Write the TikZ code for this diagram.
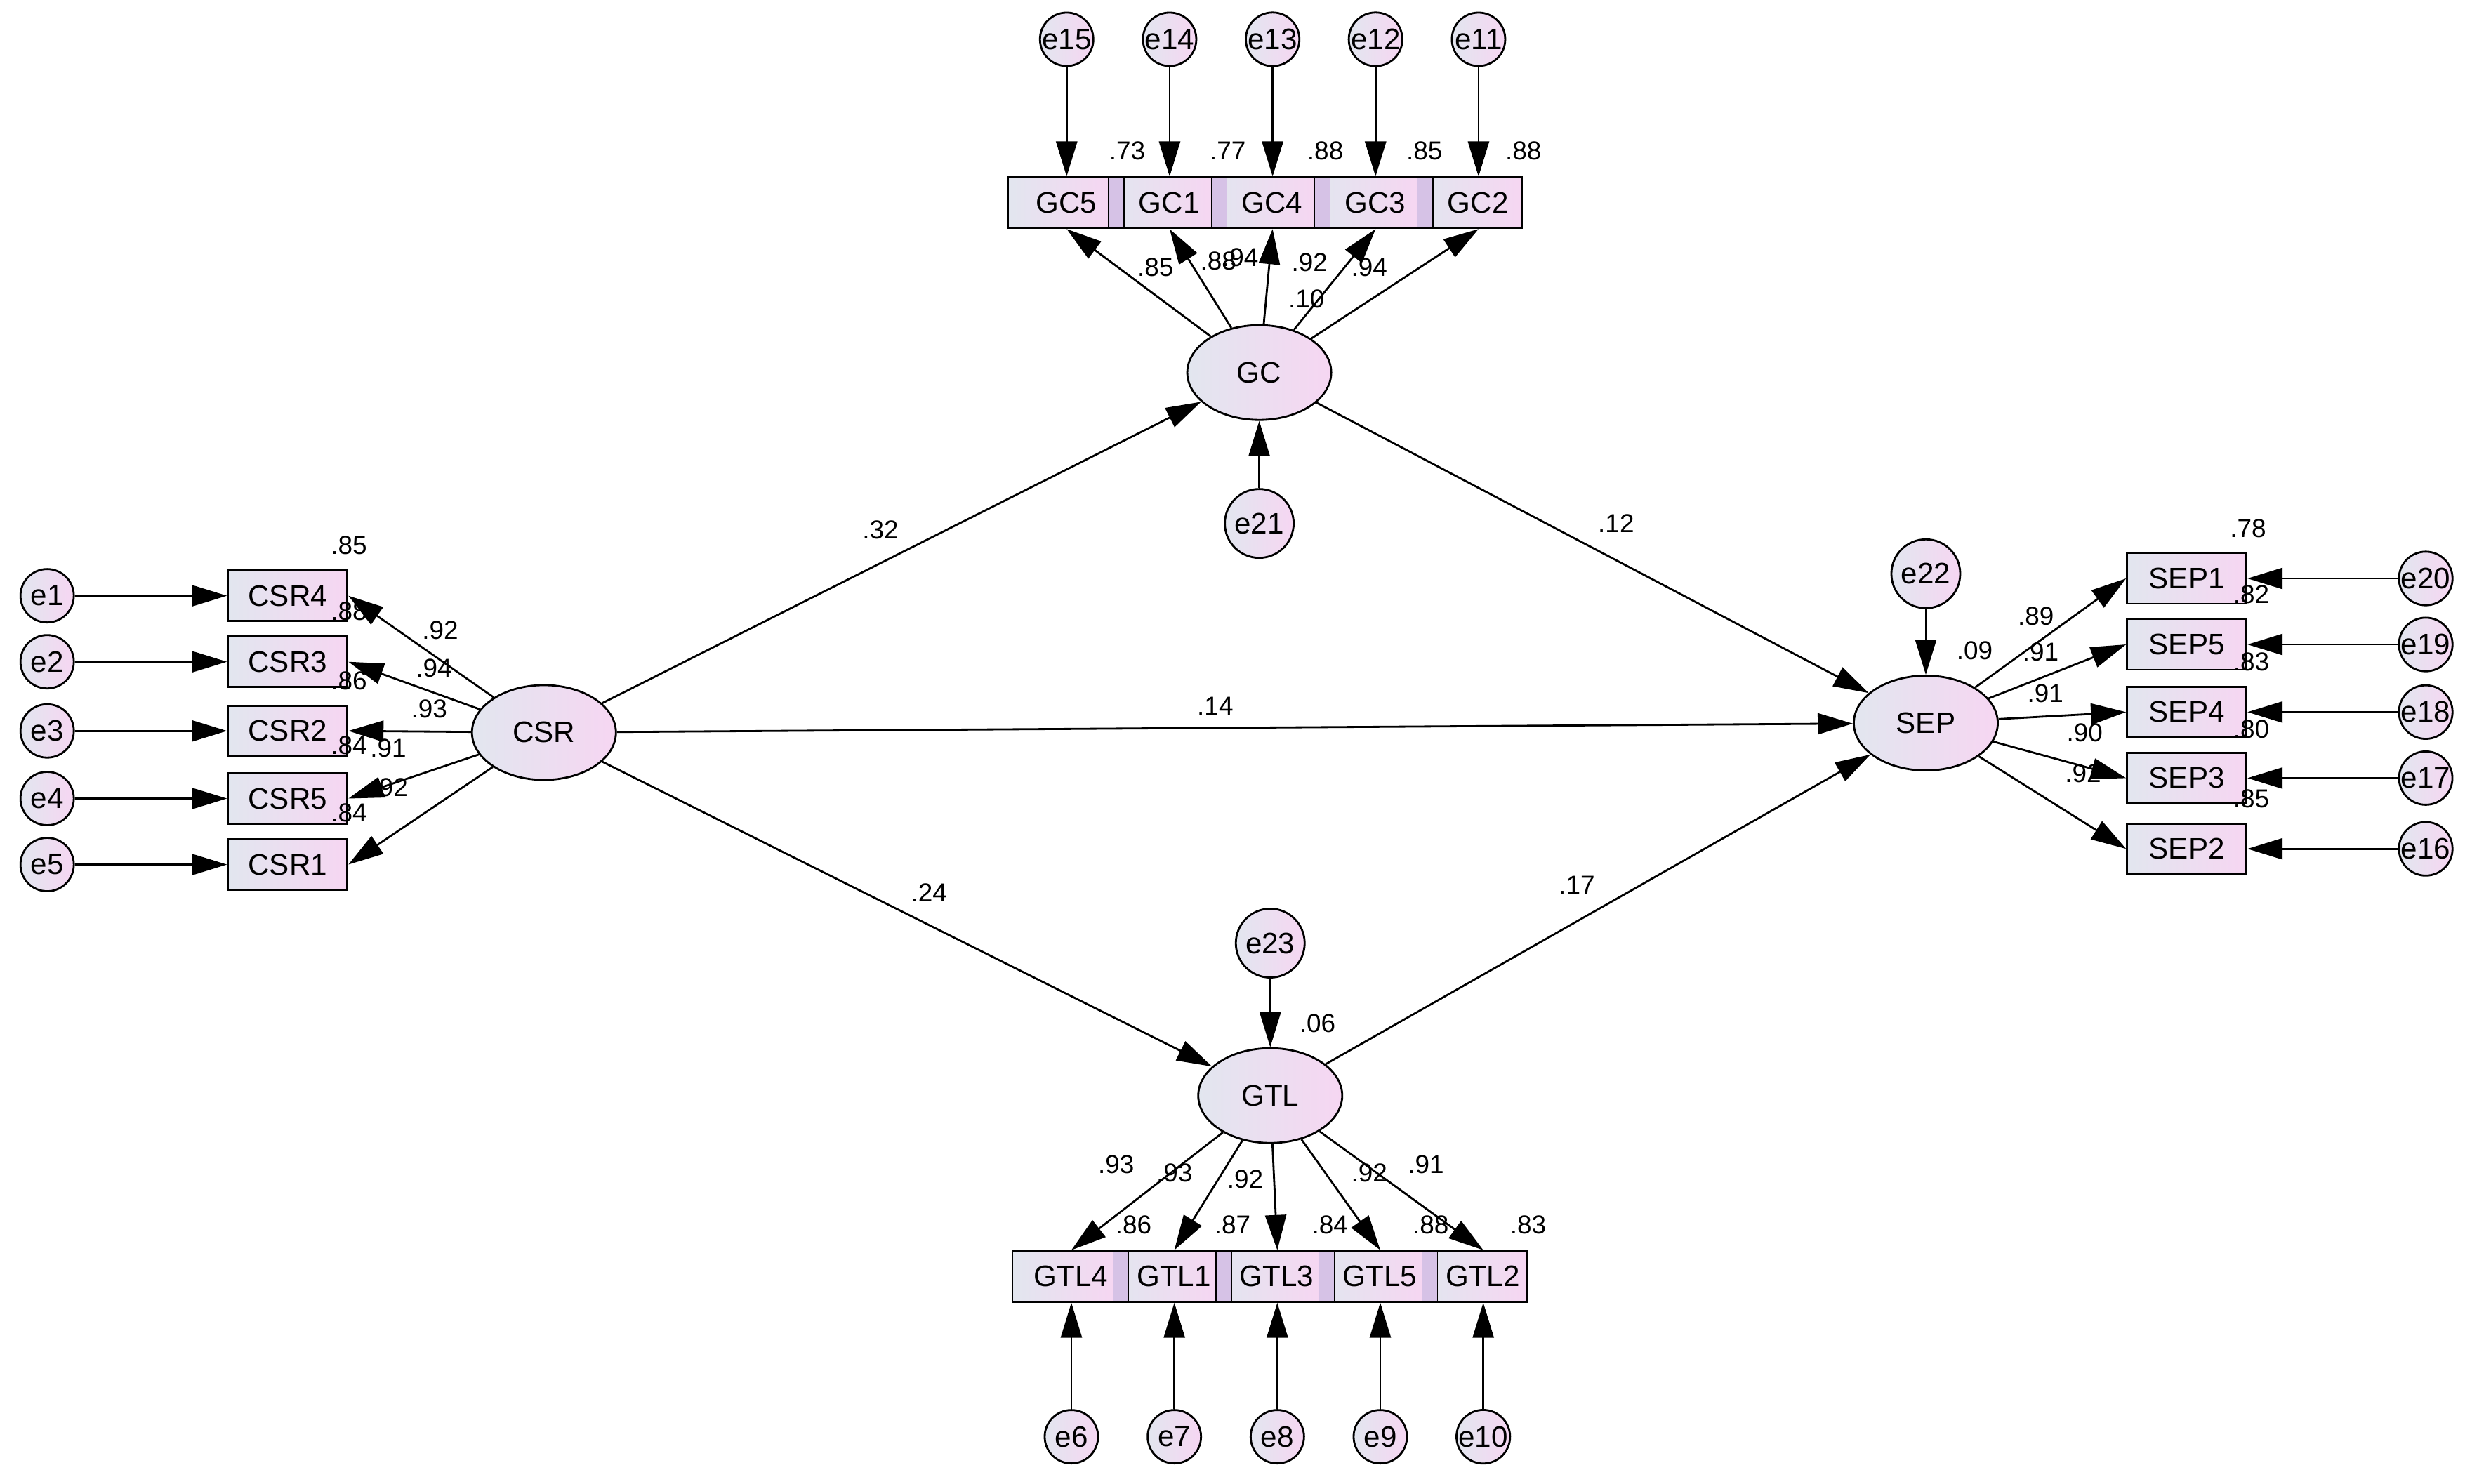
\documentclass[tikz,border=0pt]{standalone}
\usepackage{fontspec}
\setmainfont{Liberation Sans}
\usetikzlibrary{arrows.meta,shapes.geometric}
\definecolor{lbl}{HTML}{E2E6EF}
\definecolor{lpk}{HTML}{F6D6F2}
\definecolor{bar}{HTML}{D6C2E6}
\tikzset{
  obs/.style={draw, thick, left color=lbl, right color=lpk, minimum width=1.70cm, minimum height=0.72cm, inner sep=0pt, font=\fontsize{12}{12}\selectfont},
  cell/.style={obs, minimum width=1.455cm},
  lat/.style={draw, thick, ellipse, left color=lbl, right color=lpk, minimum width=2.05cm, minimum height=1.35cm, font=\fontsize{12}{12}\selectfont},
  err/.style={draw, thick, circle, left color=lbl, right color=lpk, minimum size=0.76cm, inner sep=0pt, font=\fontsize{12}{12}\selectfont},
  bigerr/.style={err, minimum size=0.98cm},
  val/.style={font=\fontsize{10.5}{10.5}\selectfont, inner sep=0pt},
  path/.style={thick, -{Triangle[length=0.5cm,width=0.3cm]}}
}
\begin{document}
\begin{tikzpicture}[x=0.022392cm, y=-0.022392cm]
    \useasboundingbox (0,0) rectangle (1568,944);

    % latent variables
    \node [lat] (CSR) at (346,466) {CSR};
    \node [lat] (GC)  at (801,237) {GC};
    \node [lat] (SEP) at (1225,460) {SEP};
    \node [lat] (GTL) at (808,697) {GTL};

    % CSR indicators
    \foreach \n/\e/\y in {4/1/379, 3/2/421, 2/3/465, 5/4/508, 1/5/550} {
        \node [obs] (CSR\n) at (183,\y) {CSR\n};
        \node [err] (e\e) at (30,\y) {e\e};
        \draw [path] (e\e) -- (CSR\n);
        \draw [path] (CSR) -- (CSR\n.east);
    }

    % SEP indicators
    \foreach \n/\e/\y in {1/20/368, 5/19/410, 4/18/453, 3/17/495, 2/16/540} {
        \node [obs] (SEP\n) at (1391,\y) {SEP\n};
        \node [err] (e\e) at (1543,\y) {e\e};
        \draw [path] (e\e) -- (SEP\n);
        \draw [path] (SEP) -- (SEP\n.west);
    }

    % GC indicators
    \foreach \n/\e/\x in {5/15/673.5, 1/14/739, 4/13/804.5, 3/12/870, 2/11/935.5} {
        \node [cell] (GC\n) at (\x,129) {\hspace{6pt}GC\n};
        \node [err] (e\e) at (\x+5,25) {e\e};
        \draw [path] (e\e) -- (e\e |- GC\n.north);
        \draw [path] (GC) -- (e\e |- GC\n.south);
    }
    \foreach \x in {705,770.5,836,901.5}
        \draw [fill=bar] (\x,113) rectangle (\x+10,145);

    % GTL indicators
    \foreach \n/\e/\x in {4/6/676.5, 1/7/742, 3/8/807.5, 5/9/873, 2/10/938.5} {
        \node [cell] (GTL\n) at (\x,812) {\hspace{6pt}GTL\n};
        \node [err] (e\e) at (\x+5,914) {e\e};
        \draw [path] (e\e) -- (e\e |- GTL\n.south);
        \draw [path] (GTL) -- (e\e |- GTL\n.north);
    }
    \foreach \x in {708,773.5,839,904.5}
        \draw [fill=bar] (\x,796) rectangle (\x+10,828);

    % structural disturbances
    \node [bigerr] (e21) at (801,333) {e21};
    \node [bigerr] (e22) at (1225,365) {e22};
    \node [bigerr] (e23) at (808,600) {e23};
    \draw [path] (e21) -- (GC);
    \draw [path] (e22) -- (SEP);
    \draw [path] (e23) -- (GTL);

    % structural paths
    \draw [path] (CSR) -- (GC);
    \draw [path] (CSR) -- (SEP);
    \draw [path] (CSR) -- (GTL);
    \draw [path] (GC) -- (SEP);
    \draw [path] (GTL) -- (SEP);

    % estimates
    \foreach \t/\x/\y in {.32/560/337, .12/1028/333, .14/773/449, .24/591/568, .17/1003/563,
        .85/222/347, .92/280/401, .88/222/389, .94/276/425, .86/222/433, .93/273/451,
        .84/222/474, .91/247/476, .92/248/501, .84/222/517,
        .73/717/96, .77/781/96, .88/843/96, .85/906/96, .88/969/96,
        .85/735/170, .88/775/166, .94/789/164, .92/833/167, .94/871/170, .10/831/190,
        .09/1256/414, .78/1430/336, .89/1295/392, .82/1432/378, .91/1298/415, .83/1432/421,
        .91/1301/441, .80/1432/464, .90/1326/466, .92/1325/492, .85/1432/508,
        .06/838/651, .93/710/741, .93/747/746, .92/792/750, .92/871/746, .91/907/741,
        .86/721/779, .87/784/779, .84/846/779, .88/910/779, .83/972/779}
        \node [val] at (\x,\y) {\t};
\end{tikzpicture}
\end{document}
